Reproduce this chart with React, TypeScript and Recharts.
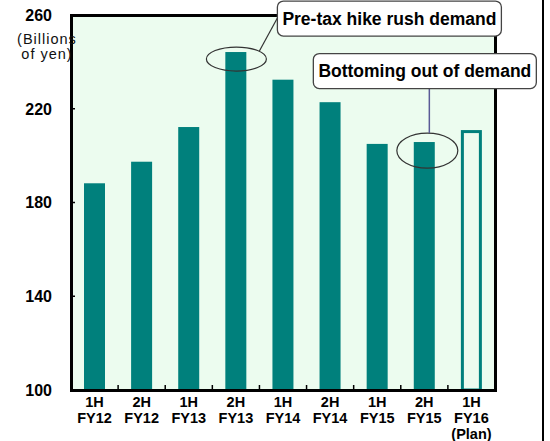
import React from "react";
import { Bar, BarChart, ReferenceDot, XAxis, YAxis } from "recharts";

const halves = ["1H", "2H", "1H", "2H", "1H", "2H", "1H", "2H", "1H"];
const years = ["FY12", "FY12", "FY13", "FY13", "FY14", "FY14", "FY15", "FY15", "FY16"];
const sales = [188.2, 197.4, 212.2, 244.2, 232.4, 222.8, 205.0, 205.8, 210.9];
const planFlags = [false, false, false, false, false, false, false, false, true];
const yTicks = [100, 140, 180, 220, 260];
const notes = ["Pre-tax hike rush demand", "Bottoming out of demand"];

const W = 550;
const H = 441;
const LEFT = 71;
const RIGHT = 495;
const TOP = 15;
const BOTTOM = 390;
const BAND = (RIGHT - LEFT) / halves.length;

const TEAL = "#00807c";
const MINT = "#ecfcef";
const FONT = "'Liberation Sans', Arial, Helvetica, sans-serif";

const data = halves.map((h, i) => ({
  key: `${h} ${years[i]}`,
  half: h,
  year: years[i],
  value: sales[i],
  plan: planFlags[i],
}));

const YTick = (props: any) => {
  const { x, y, payload } = props;
  const v = payload.value;
  return (
    <g>
      {v !== 100 && v !== 260 && (
        <line x1={x} x2={x + 4} y1={y} y2={y} stroke="#000" strokeWidth={1.5} />
      )}
      <text
        x={x - 19}
        y={y}
        dy="0.36em"
        textAnchor="end"
        fontFamily={FONT}
        fontWeight="bold"
        fontSize={16}
        fill="#000"
      >
        {v}
      </text>
    </g>
  );
};

const XTick = (props: any) => {
  const { x, y, index } = props;
  const d = data[index];
  if (!d) return null;
  return (
    <g>
      {index < data.length - 1 && (
        <line
          x1={x + BAND / 2}
          x2={x + BAND / 2}
          y1={y}
          y2={y - 5}
          stroke="#000"
          strokeWidth={1.5}
        />
      )}
      <text
        x={x}
        y={y}
        textAnchor="middle"
        fontFamily={FONT}
        fontWeight="bold"
        fontSize={14.5}
        fill="#000"
      >
        <tspan x={x} dy={16.5}>{d.half}</tspan>
        <tspan x={x} dy={16.5}>{d.year}</tspan>
        {d.plan && <tspan x={x} dy={15.5}>(Plan)</tspan>}
      </text>
    </g>
  );
};

const BarShape = (props: any) => {
  const { x, y, width, height, payload } = props;
  if (payload && payload.plan) {
    return (
      <rect
        x={x + 1.5}
        y={y + 1.5}
        width={width - 3}
        height={height - 1.5}
        fill={MINT}
        stroke={TEAL}
        strokeWidth={3}
      />
    );
  }
  return <rect x={x} y={y} width={width} height={height} fill={TEAL} />;
};

const Callout = (props: any) => {
  const { cx, cy, which } = props;
  if (cx == null || cy == null) return null;
  if (which === 0) {
    const ex = cx + 0.5;
    const ey = cy + 7;
    const bx = ex + 41;
    const by = ey - 58;
    return (
      <g>
        <ellipse cx={ex} cy={ey} rx={30} ry={12} fill="none" stroke="#333" strokeWidth={1.2} />
        <line x1={ex + 23} y1={ey - 8} x2={bx} y2={by + 17} stroke="#333" strokeWidth={1.2} />
        <rect x={bx} y={by} width={224} height={35} rx={6} fill="#fff" stroke="#444" strokeWidth={1.3} />
        <text
          x={bx + 112}
          y={by + 17.5}
          dy="0.36em"
          textAnchor="middle"
          fontFamily={FONT}
          fontWeight="bold"
          fontSize={17.5}
          fill="#000"
        >
          {notes[0]}
        </text>
      </g>
    );
  }
  const ex = cx + 3;
  const ey = cy + 8.5;
  const bx = ex - 114;
  const by = ey - 97;
  return (
    <g>
      <ellipse cx={ex} cy={ey} rx={30.5} ry={17.5} fill="none" stroke="#333" strokeWidth={1.2} />
      <line x1={ex + 2} y1={ey - 17.5} x2={ex + 2} y2={by + 35} stroke="#5a5a96" strokeWidth={1.5} />
      <rect x={bx} y={by} width={223} height={35} rx={6} fill="#fff" stroke="#444" strokeWidth={1.3} />
      <text
        x={bx + 111.5}
        y={by + 17.5}
        dy="0.36em"
        textAnchor="middle"
        fontFamily={FONT}
        fontWeight="bold"
        fontSize={17.5}
        fill="#000"
      >
        {notes[1]}
      </text>
    </g>
  );
};

export default function App() {
  return (
    <div style={{ position: "absolute", left: 0, top: 0, width: W, height: H, background: "#fff" }}>
      {/* plot background and frame, sitting under the chart svg */}
      <div
        style={{
          position: "absolute",
          left: LEFT - 1.5,
          top: TOP - 1.5,
          width: RIGHT - LEFT + 3,
          height: BOTTOM - TOP + 3,
          boxSizing: "border-box",
          border: "3px solid #000",
          background: MINT,
        }}
      />
      <div style={{ position: "absolute", left: 0, top: 0 }}>
        <BarChart
          width={W}
          height={H}
          data={data}
          margin={{ top: TOP, right: W - RIGHT, left: 0, bottom: 0 }}
          barSize={21}
        >
          <XAxis
            dataKey="key"
            interval={0}
            height={H - BOTTOM}
            tick={<XTick />}
            tickLine={false}
            tickSize={0}
            tickMargin={0}
            stroke="#000"
            strokeWidth={2}
          />
          <YAxis
            domain={[100, 260]}
            ticks={yTicks}
            allowDataOverflow
            width={LEFT}
            tick={<YTick />}
            tickLine={false}
            tickSize={0}
            tickMargin={0}
            stroke="#000"
            strokeWidth={2}
          />
          <Bar dataKey="value" shape={<BarShape />} isAnimationActive={false} />
          <ReferenceDot
            x={data[3].key}
            y={sales[3]}
            ifOverflow="visible"
            shape={(p: any) => <Callout {...p} which={0} />}
          />
          <ReferenceDot
            x={data[7].key}
            y={sales[7]}
            ifOverflow="visible"
            shape={(p: any) => <Callout {...p} which={1} />}
          />
        </BarChart>
      </div>
      <div
        style={{
          position: "absolute",
          left: 0,
          top: 32,
          width: 94,
          textAlign: "center",
          fontFamily: FONT,
          fontSize: 14.5,
          letterSpacing: 1,
          lineHeight: "14.5px",
          color: "#111",
        }}
      >
        (Billions
        <br />
        of yen)
      </div>
      <div
        style={{
          position: "absolute",
          left: 542,
          top: 0,
          width: 2,
          height: H,
          background: "#000",
        }}
      />
    </div>
  );
}
